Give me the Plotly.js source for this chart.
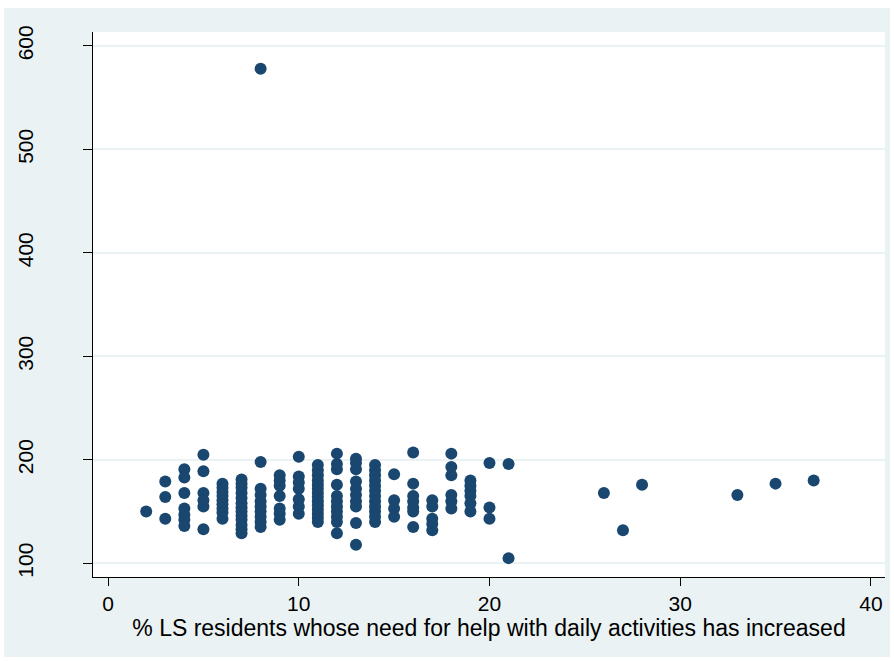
<!DOCTYPE html>
<html>
<head>
<meta charset="utf-8">
<script src="https://cdn.plot.ly/plotly-3.0.1.min.js"></script>
<style>
  html, body { margin: 0; padding: 0; background: #ffffff; }
  #chart { position: absolute; left: 4px; top: 8px; width: 886px; height: 649px; }
</style>
</head>
<body>
<div id="chart"></div>
<script>
// % of LS residents whose need for help with daily activities has increased (x)
// and the plotted outcome value (y), one entry per facility, grouped by x value.
const pctHelpIncreased = [
  2,
  3, 3, 3,
  4, 4, 4, 4, 4, 4, 4,
  5, 5, 5, 5, 5, 5,
  6, 6, 6, 6, 6, 6, 6, 6, 6,
  7, 7, 7, 7, 7, 7, 7, 7, 7, 7, 7, 7, 7,
  8, 8, 8, 8, 8, 8, 8, 8, 8, 8,
  9, 9, 9, 9, 9, 9, 9,
  10, 10, 10, 10, 10, 10, 10,
  11, 11, 11, 11, 11, 11, 11, 11, 11, 11, 11, 11, 11, 11,
  12, 12, 12, 12, 12, 12, 12, 12, 12, 12, 12,
  13, 13, 13, 13, 13, 13, 13, 13, 13, 13,
  14, 14, 14, 14, 14, 14, 14, 14, 14, 14, 14, 14,
  15, 15, 15, 15,
  16, 16, 16, 16, 16, 16, 16,
  17, 17, 17, 17, 17,
  18, 18, 18, 18, 18, 18,
  19, 19, 19, 19, 19, 19,
  20, 20, 20,
  21, 21,
  26, 27, 28, 33, 35, 37
];
const outcomeValue = [
  150,
  179, 164, 143,
  191, 183, 168, 153, 147, 142, 136,
  205, 189, 168, 161, 155, 133,
  177, 173, 169, 165, 161, 157, 153, 149, 143,
  181, 177, 173, 168, 163, 158, 154, 150, 146, 142, 137, 133, 129,
  578, 198, 172, 166, 160, 155, 150, 145, 140, 135,
  185, 180, 175, 165, 153, 148, 142,
  203, 184, 178, 172, 162, 155, 148,
  195, 190, 185, 180, 176, 172, 168, 164, 160, 156, 152, 148, 144, 140,
  206, 196, 191, 176, 165, 160, 155, 150, 145, 140, 129,
  201, 197, 191, 179, 172, 166, 160, 155, 139, 118,
  195, 190, 185, 180, 175, 170, 165, 160, 155, 150, 145, 140,
  186, 161, 153, 145,
  207, 177, 165, 160, 154, 150, 135,
  161, 155, 143, 138, 132,
  206, 193, 185, 166, 160, 153,
  180, 175, 170, 165, 158, 150,
  197, 154, 143,
  196, 105,
  168, 132, 176, 166, 177, 180
];
const xTicks = [0, 10, 20, 30, 40];
const yTicks = [100, 200, 300, 400, 500, 600];
const xTitle = '% LS residents whose need for help with daily activities has increased';

const trace = {
  type: 'scatter',
  mode: 'markers',
  x: pctHelpIncreased,
  y: outcomeValue,
  marker: { size: 12, color: '#1a476f', line: { width: 0 } },
  hoverinfo: 'skip'
};

const layout = {
  width: 886,
  height: 649,
  paper_bgcolor: '#eaf2f3',
  plot_bgcolor: '#ffffff',
  margin: { l: 89, r: 5, t: 24, b: 80, pad: 0 },
  showlegend: false,
  font: { family: 'Liberation Sans, Arial, sans-serif', color: '#000000', size: 21 },
  xaxis: {
    range: [-0.79, 40.74],
    tickmode: 'array',
    tickvals: xTicks,
    ticktext: xTicks.map(String),
    ticks: 'outside',
    ticklen: 8,
    tickwidth: 1,
    tickcolor: '#000000',
    showline: true,
    linecolor: '#000000',
    linewidth: 1.2,
    showgrid: false,
    zeroline: false,
    tickfont: { size: 21 },
    title: { text: xTitle, font: { size: 23 }, standoff: 1 }
  },
  yaxis: {
    range: [86.76, 613.5],
    tickmode: 'array',
    tickvals: yTicks,
    ticktext: yTicks.map(String),
    ticks: 'outside',
    ticklen: 9,
    tickwidth: 1,
    tickcolor: '#000000',
    tickangle: -90,
    ticklabelstandoff: 41,
    showline: true,
    linecolor: '#000000',
    linewidth: 1.2,
    showgrid: true,
    gridcolor: '#eaf2f3',
    gridwidth: 2,
    zeroline: false,
    tickfont: { size: 21 }
  }
};

Plotly.newPlot('chart', [trace], layout, { staticPlot: true, displayModeBar: false });
</script>
</body>
</html>
